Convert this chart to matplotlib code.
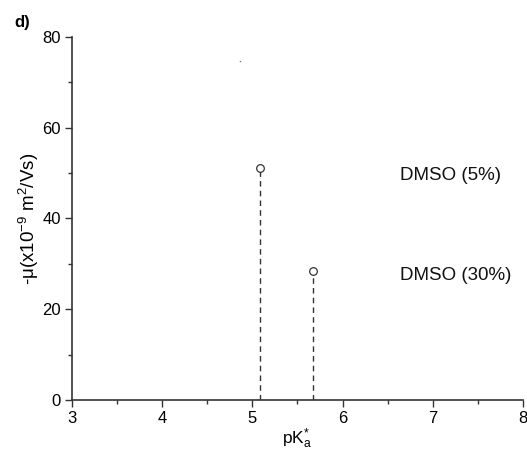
import matplotlib
matplotlib.use("Agg")
import matplotlib.pyplot as plt
from matplotlib.ticker import MultipleLocator

# data
pka = [5.08, 5.675]
mobility = [51.1, 28.4]
labels = ["DMSO (5%)", "DMSO (30%)"]
label_x = [6.64, 6.64]
label_y = [49.5, 27.5]
stray_x = [4.86]
stray_y = [74.6]

plt.rcParams['font.family'] = ['Liberation Sans', 'DejaVu Sans']
plt.rcParams['mathtext.fontset'] = 'custom'
plt.rcParams['mathtext.rm'] = 'Liberation Sans'
plt.rcParams['mathtext.it'] = 'Liberation Sans:italic'
plt.rcParams['font.size'] = 12

fig = plt.figure(figsize=(5.27, 4.51), dpi=100)
ax = fig.add_axes([0.1366, 0.1131, 0.8558, 0.8049])

for x, y in zip(pka, mobility):
    ax.plot([x, x], [0, y], color='#333333', linestyle=(0, (4, 3)), linewidth=1.0)
ax.plot(pka, mobility, 'o', mfc='white', mec='#333333', ms=5.5, mew=0.9, zorder=3)
ax.plot(stray_x, stray_y, 's', color='#777777', ms=1.0, mew=0)

for t, x, y in zip(labels, label_x, label_y):
    ax.text(x, y, t, fontsize=13.5, va='center', ha='left', color='#111111')

ax.set_xlim(3, 8)
ax.set_ylim(0, 80)
ax.xaxis.set_major_locator(MultipleLocator(1))
ax.xaxis.set_minor_locator(MultipleLocator(0.5))
ax.yaxis.set_major_locator(MultipleLocator(20))
ax.yaxis.set_minor_locator(MultipleLocator(10))
ax.tick_params(which='major', direction='out', length=5, width=1, color='#333333', labelsize=12, pad=3)
ax.tick_params(which='minor', direction='out', length=3, width=1, color='#333333')
for s in ['top', 'right']:
    ax.spines[s].set_visible(False)
for s in ['left', 'bottom']:
    ax.spines[s].set_linewidth(1.2)
    ax.spines[s].set_color('#333333')

ax.set_xlabel(r'pK$_\mathregular{a}^{\mathregular{*}}$', fontsize=12.5, labelpad=0)
ax.set_ylabel(r'-$\mathregular{\mu}$(x10$^\mathregular{-9}$ m$^\mathregular{2}$/Vs)', fontsize=13.5, labelpad=1)

fig.text(0.028, 0.95, 'd)', fontsize=12, fontweight='bold', ha='left', va='center')

fig.savefig('out.png', dpi=100, facecolor='white')
